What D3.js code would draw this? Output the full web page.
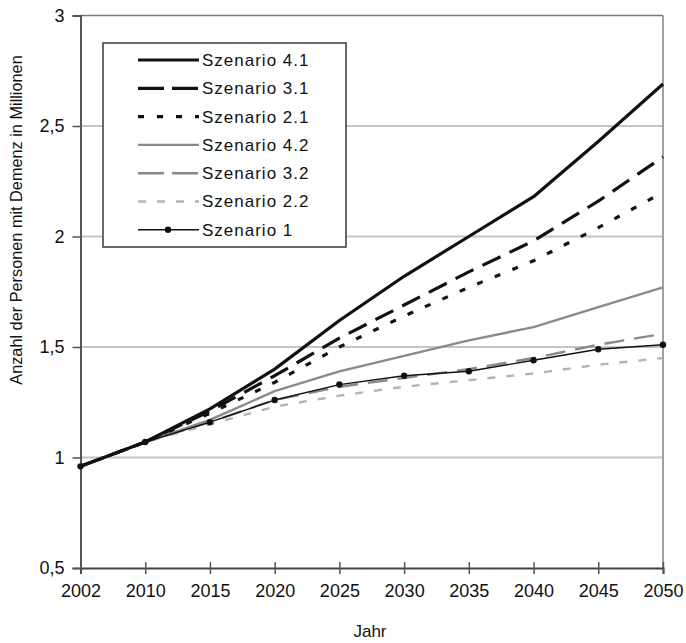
<!DOCTYPE html>
<html><head><meta charset="utf-8">
<script src="https://cdn.jsdelivr.net/npm/d3@7"></script>
<style>
html,body{margin:0;padding:0;background:#fff;}
text{font-family:"Liberation Sans",Arial,sans-serif;fill:#111;}
</style></head>
<body>
<svg id="chart" width="686" height="643"></svg>
<script>
const years = ["2002","2010","2015","2020","2025","2030","2035","2040","2045","2050"];
const s41 = [0.96,1.07,1.22,1.40,1.62,1.82,2.00,2.18,2.43,2.69];
const s31 = [0.96,1.07,1.21,1.37,1.54,1.69,1.84,1.98,2.16,2.36];
const s21 = [0.96,1.07,1.20,1.34,1.50,1.64,1.77,1.89,2.04,2.20];
const s42 = [0.96,1.07,1.17,1.30,1.39,1.46,1.53,1.59,1.68,1.77];
const s32 = [0.96,1.07,1.16,1.26,1.32,1.36,1.40,1.45,1.51,1.56];
const s22 = [0.96,1.07,1.15,1.23,1.28,1.32,1.35,1.38,1.42,1.45];
const s1  = [0.96,1.07,1.16,1.26,1.33,1.37,1.39,1.44,1.49,1.51];
const yTicks = [0.5,1,1.5,2,2.5,3];
const seriesNames = ["Szenario 4.1","Szenario 3.1","Szenario 2.1","Szenario 4.2","Szenario 3.2","Szenario 2.2","Szenario 1"];

const styles = [
  {color:"#111", w:3.2, dash:null, ldash:null},
  {color:"#111", w:3.2, dash:"20,10", ldash:"26,8"},
  {color:"#111", w:3.2, dash:"6,13", ldash:"6,13"},
  {color:"#8a8a8a", w:2.4, dash:null, ldash:null},
  {color:"#8a8a8a", w:2.4, dash:"20,10", ldash:"26,8"},
  {color:"#b4b4b4", w:2.4, dash:"8,11", ldash:"8,11"},
  {color:"#111", w:1.4, dash:null, ldash:null, marker:true}
];
const data = [s41,s31,s21,s42,s32,s22,s1];

const svg = d3.select("#chart");
const L = 80.5, R = 663, T = 15.5, B = 568;
const x = d3.scalePoint().domain(years).range([L,R]);
const y = d3.scaleLinear().domain([0.5,3]).range([B,T]);

// gridlines
svg.append("g").selectAll("line").data(yTicks.filter(v=>v>0.5 && v<3)).join("line")
  .attr("x1",L).attr("x2",R).attr("y1",d=>y(d)).attr("y2",d=>y(d))
  .attr("stroke","#c4c4c4").attr("stroke-width",1.8);
// top border and right border
svg.append("line").attr("x1",L).attr("x2",R).attr("y1",y(3)).attr("y2",y(3))
  .attr("stroke","#777").attr("stroke-width",1.6);
svg.append("line").attr("x1",R).attr("x2",R).attr("y1",y(3)).attr("y2",B)
  .attr("stroke","#8a8a8a").attr("stroke-width",1.6);

// y axis
const yAxis = d3.axisLeft(y).tickValues(yTicks).tickSize(8).tickPadding(8)
  .tickFormat(d=>d3.format(".1~f")(d).replace(".",","));
const gy = svg.append("g").attr("transform",`translate(${L},0)`).call(yAxis);
gy.select(".domain").attr("stroke","#555").attr("stroke-width",2);
gy.selectAll(".tick line").attr("stroke","#555").attr("stroke-width",1.5);
gy.selectAll("text").attr("font-size",18).attr("fill","#111").style("font-family","Liberation Sans, Arial, sans-serif");

// x axis
const xAxis = d3.axisBottom(x).tickSize(6).tickPadding(10);
const gx = svg.append("g").attr("transform",`translate(0,${B})`).call(xAxis);
gx.select(".domain").attr("stroke","#444").attr("stroke-width",2);
gx.selectAll(".tick line").attr("y1",-6).attr("y2",6).attr("stroke","#555").attr("stroke-width",1.5);
gx.selectAll("text").attr("font-size",18).attr("fill","#111").style("font-family","Liberation Sans, Arial, sans-serif");

// lines
const line = d3.line().x((d,i)=>x(years[i])).y(d=>y(d));
const order = [5,4,3,6,2,1,0];
order.forEach(k=>{
  const st = styles[k];
  svg.append("path").datum(data[k]).attr("d",line).attr("fill","none")
    .attr("stroke",st.color).attr("stroke-width",st.w)
    .attr("stroke-dasharray",st.dash).attr("stroke-linejoin","round");
  if(st.marker){
    svg.append("g").selectAll("circle").data(data[k]).join("circle")
      .attr("cx",(d,i)=>x(years[i])).attr("cy",d=>y(d)).attr("r",3.2).attr("fill","#111");
  }
});

// legend
const lg = svg.append("g");
lg.append("rect").attr("x",103).attr("y",43).attr("width",243).attr("height",204)
  .attr("fill","#fff").attr("stroke","#444").attr("stroke-width",1.6);
seriesNames.forEach((name,i)=>{
  const st = styles[i];
  const yy = 60 + i*28.3;
  lg.append("line").attr("x1",138).attr("x2",199).attr("y1",yy).attr("y2",yy)
    .attr("stroke",st.color).attr("stroke-width",st.w).attr("stroke-dasharray",st.ldash);
  if(st.marker) lg.append("circle").attr("cx",168).attr("cy",yy).attr("r",3.2).attr("fill","#111");
  lg.append("text").attr("x",202).attr("y",yy).attr("dy","0.35em")
    .attr("font-size",17).attr("letter-spacing","1px").text(name);
});

// axis titles
svg.append("text").attr("x",370).attr("y",637).attr("text-anchor","middle")
  .attr("font-size",17).text("Jahr");
svg.append("text").attr("transform","translate(22,220) rotate(-90)").attr("text-anchor","middle")
  .attr("font-size",16.3).text("Anzahl der Personen mit Demenz in Millionen");
</script>
</body></html>
